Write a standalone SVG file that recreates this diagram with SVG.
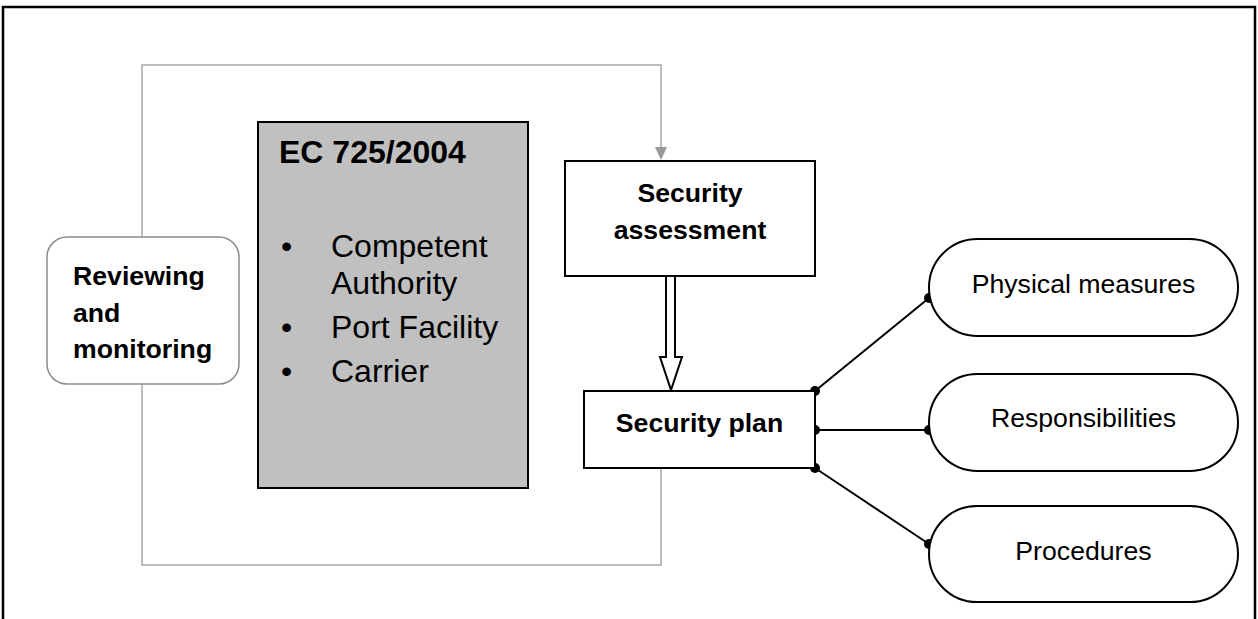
<svg xmlns="http://www.w3.org/2000/svg" width="1258" height="619" viewBox="0 0 1258 619">
<style>
text{font-family:"Liberation Sans",Arial,sans-serif;fill:#000}
.b{font-weight:bold;font-size:26.67px}
.r{font-size:26.67px}
.big{font-size:32px}
.box{fill:#fff;stroke:#000;stroke-width:2}
.gray{fill:none;stroke:#a6a6a6;stroke-width:1.5}
.ln{fill:none;stroke:#000;stroke-width:2}
.dot{fill:#000}
</style>
<rect x="0" y="0" width="1258" height="619" fill="#fff"/>
<path d="M3,619 V7 H1255 V619" fill="none" stroke="#000" stroke-width="2.5"/>
<g id="connectors">
<path class="gray" d="M142,237 V65 H661 V147"/>
<path d="M655,147 L667,147 L661,160 Z" fill="#999"/>
<path class="gray" d="M142,384 V565 H661 V468"/>
<path d="M666,276 V357 H660 L671,390 L682,357 H675 V276" fill="#fff" stroke="#000" stroke-width="2"/>
<line class="ln" x1="815" y1="391" x2="929" y2="298"/>
<line class="ln" x1="815" y1="430" x2="929" y2="430"/>
<line class="ln" x1="815" y1="468" x2="929" y2="544"/>
<circle class="dot" cx="815" cy="391" r="5"/>
<circle class="dot" cx="815" cy="430" r="5"/>
<circle class="dot" cx="815" cy="468" r="5"/>
<circle class="dot" cx="929" cy="298" r="5"/>
<circle class="dot" cx="929" cy="430" r="5"/>
<circle class="dot" cx="929" cy="544" r="5"/>
</g>
<g id="reviewing">
<rect x="47" y="237" width="192" height="147" rx="20" ry="20" fill="#fff" stroke="#8c8c8c" stroke-width="1.5"/>
<text class="b" x="73" y="285">Reviewing</text>
<text class="b" x="73" y="322">and</text>
<text class="b" x="73" y="358">monitoring</text>
</g>
<g id="ec">
<rect x="258" y="122" width="270" height="366" fill="#c0c0c0" stroke="#000" stroke-width="2"/>
<text class="big" x="279" y="163" font-weight="bold">EC 725/2004</text>
<text class="big" x="281" y="257">•</text>
<text class="big" x="331" y="257">Competent</text>
<text class="big" x="331" y="294">Authority</text>
<text class="big" x="281" y="338">•</text>
<text class="big" x="331" y="338">Port Facility</text>
<text class="big" x="281" y="382">•</text>
<text class="big" x="331" y="382">Carrier</text>
</g>
<g id="assessment">
<rect class="box" x="565" y="161" width="250" height="115"/>
<text class="b" x="690" y="202" text-anchor="middle">Security</text>
<text class="b" x="690" y="239" text-anchor="middle">assessment</text>
</g>
<g id="plan">
<rect class="box" x="584" y="391" width="231" height="77"/>
<text class="b" x="699.5" y="432" text-anchor="middle">Security plan</text>
</g>
<g id="physical">
<rect class="box" x="929" y="239" width="309" height="97" rx="48.5" ry="48.5"/>
<text class="r" x="1083.5" y="293" text-anchor="middle">Physical measures</text>
</g>
<g id="responsibilities">
<rect class="box" x="929" y="374" width="309" height="97" rx="48.5" ry="48.5"/>
<text class="r" x="1083.5" y="427" text-anchor="middle">Responsibilities</text>
</g>
<g id="procedures">
<rect class="box" x="929" y="506" width="309" height="96" rx="48" ry="48"/>
<text class="r" x="1083.5" y="560" text-anchor="middle">Procedures</text>
</g>
</svg>
